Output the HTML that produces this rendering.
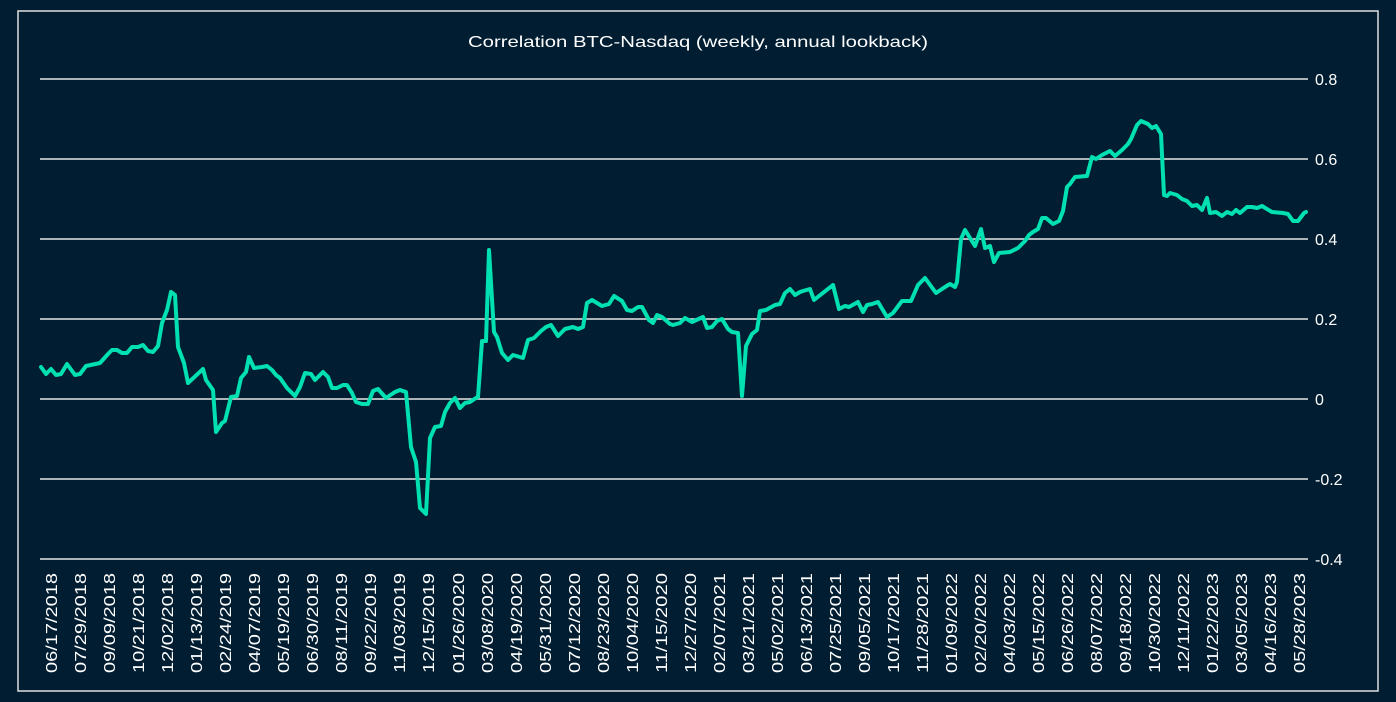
<!DOCTYPE html>
<html><head><meta charset="utf-8"><style>
html,body{margin:0;padding:0;background:#011d31;}
svg{display:block;font-family:"Liberation Sans",sans-serif;}
</style></head><body>
<svg width="1396" height="702" viewBox="0 0 1396 702" xmlns="http://www.w3.org/2000/svg">
<rect width="1396" height="702" fill="#011d31"/>
<rect x="18" y="11" width="1360" height="680" fill="none" stroke="#e0e0e0" stroke-width="1.5"/>
<text x="468" y="47" fill="#ffffff" font-size="16" textLength="460" lengthAdjust="spacingAndGlyphs">Correlation BTC-Nasdaq (weekly, annual lookback)</text>
<g stroke="#e6e6e6" stroke-width="1.5">
<line x1="40" y1="79" x2="1308" y2="79"/><line x1="40" y1="159" x2="1308" y2="159"/>
<line x1="40" y1="239" x2="1308" y2="239"/><line x1="40" y1="319" x2="1308" y2="319"/>
<line x1="40" y1="399" x2="1308" y2="399"/><line x1="40" y1="479" x2="1308" y2="479"/>
<line x1="40" y1="559" x2="1308" y2="559"/>
</g>
<g fill="#ffffff" font-size="16">
<text x="1315" y="85">0.8</text><text x="1315" y="165">0.6</text><text x="1315" y="245">0.4</text>
<text x="1315" y="325">0.2</text><text x="1315" y="405">0</text><text x="1315" y="485">-0.2</text>
<text x="1315" y="565">-0.4</text>
</g>
<polyline fill="none" stroke="#00e0b0" stroke-width="4" stroke-linejoin="round" stroke-linecap="round" points="41,367 46,374 51,369 56,375 61,374 67,364 75,375 80,374 86,366 100,363 108,354 112,350 117,350 122,353 127,353 132,347 138,347 143,345 148,351 153,352 158,346 162,323 167,310 171,292 175,295 178,347 184,363 188,383 203,369 206,380 213,390 216,432 222,423 225,421 231,397 237,396 241,378 246,372 249,357 254,368 262,367 267,366 272,370 276,375 280,378 287,388 295,396 300,387 305,373 311,374 315,380 323,372 328,377 332,388 337,388 343,385 347,385 352,393 356,402 362,404 368,404 373,391 378,389 386,398 395,392 400,390 406,392 407,403 411,447 416,462 420,508 426,514 430,438 435,427 441,426 445,412 450,403 455,398 460,408 465,403 470,402 476,398 478,397 482,341 486,341 489,250 494,332 497,337 502,353 508,360 513,355 523,358 528,340 534,338 541,331 546,327 551,325 558,336 565,329 573,327 578,329 583,327 587,303 592,300 602,306 609,304 614,296 622,301 627,310 632,311 638,307 642,307 649,320 653,323 657,315 662,317 670,324 673,325 680,323 685,318 692,322 703,317 707,328 712,327 717,321 722,319 728,329 732,332 738,333 742,396 746,346 752,334 757,330 760,311 766,310 775,305 780,304 785,293 790,289 795,295 800,292 803,291 810,289 814,300 819,296 833,285 839,309 845,306 849,307 858,302 863,312 867,305 872,304 878,302 887,317 893,313 902,301 911,301 918,285 925,278 936,293 945,287 950,284 955,287 957,282 961,239 965,230 975,246 981,229 985,248 990,246 994,262 999,253 1010,252 1018,248 1025,241 1029,235 1033,232 1038,229 1042,218 1046,218 1053,224 1059,221 1063,211 1067,187 1070,184 1075,177 1087,176 1092,157 1096,159 1102,155 1110,151 1115,156 1122,150 1128,144 1131,139 1137,125 1141,121 1148,124 1152,128 1156,126 1161,134 1164,195 1167,196 1170,193 1177,195 1182,199 1187,201 1192,206 1197,205 1202,210 1207,198 1210,213 1216,212 1222,216 1227,212 1232,214 1236,210 1240,213 1247,207 1252,207 1257,208 1262,206 1272,212 1283,213 1288,214 1293,221 1298,221 1304,213 1306,212"/>
<g fill="#ffffff" font-size="16" text-anchor="end">
<g transform="translate(57,573) rotate(-90)"><text textLength="100" lengthAdjust="spacingAndGlyphs">06/17/2018</text></g>
<g transform="translate(86,573) rotate(-90)"><text textLength="100" lengthAdjust="spacingAndGlyphs">07/29/2018</text></g>
<g transform="translate(115,573) rotate(-90)"><text textLength="100" lengthAdjust="spacingAndGlyphs">09/09/2018</text></g>
<g transform="translate(144,573) rotate(-90)"><text textLength="100" lengthAdjust="spacingAndGlyphs">10/21/2018</text></g>
<g transform="translate(173,573) rotate(-90)"><text textLength="100" lengthAdjust="spacingAndGlyphs">12/02/2018</text></g>
<g transform="translate(202,573) rotate(-90)"><text textLength="100" lengthAdjust="spacingAndGlyphs">01/13/2019</text></g>
<g transform="translate(231,573) rotate(-90)"><text textLength="100" lengthAdjust="spacingAndGlyphs">02/24/2019</text></g>
<g transform="translate(260,573) rotate(-90)"><text textLength="100" lengthAdjust="spacingAndGlyphs">04/07/2019</text></g>
<g transform="translate(289,573) rotate(-90)"><text textLength="100" lengthAdjust="spacingAndGlyphs">05/19/2019</text></g>
<g transform="translate(318,573) rotate(-90)"><text textLength="100" lengthAdjust="spacingAndGlyphs">06/30/2019</text></g>
<g transform="translate(347,573) rotate(-90)"><text textLength="100" lengthAdjust="spacingAndGlyphs">08/11/2019</text></g>
<g transform="translate(376,573) rotate(-90)"><text textLength="100" lengthAdjust="spacingAndGlyphs">09/22/2019</text></g>
<g transform="translate(405,573) rotate(-90)"><text textLength="100" lengthAdjust="spacingAndGlyphs">11/03/2019</text></g>
<g transform="translate(434,573) rotate(-90)"><text textLength="100" lengthAdjust="spacingAndGlyphs">12/15/2019</text></g>
<g transform="translate(464,573) rotate(-90)"><text textLength="100" lengthAdjust="spacingAndGlyphs">01/26/2020</text></g>
<g transform="translate(493,573) rotate(-90)"><text textLength="100" lengthAdjust="spacingAndGlyphs">03/08/2020</text></g>
<g transform="translate(522,573) rotate(-90)"><text textLength="100" lengthAdjust="spacingAndGlyphs">04/19/2020</text></g>
<g transform="translate(551,573) rotate(-90)"><text textLength="100" lengthAdjust="spacingAndGlyphs">05/31/2020</text></g>
<g transform="translate(580,573) rotate(-90)"><text textLength="100" lengthAdjust="spacingAndGlyphs">07/12/2020</text></g>
<g transform="translate(609,573) rotate(-90)"><text textLength="100" lengthAdjust="spacingAndGlyphs">08/23/2020</text></g>
<g transform="translate(638,573) rotate(-90)"><text textLength="100" lengthAdjust="spacingAndGlyphs">10/04/2020</text></g>
<g transform="translate(667,573) rotate(-90)"><text textLength="100" lengthAdjust="spacingAndGlyphs">11/15/2020</text></g>
<g transform="translate(696,573) rotate(-90)"><text textLength="100" lengthAdjust="spacingAndGlyphs">12/27/2020</text></g>
<g transform="translate(725,573) rotate(-90)"><text textLength="100" lengthAdjust="spacingAndGlyphs">02/07/2021</text></g>
<g transform="translate(754,573) rotate(-90)"><text textLength="100" lengthAdjust="spacingAndGlyphs">03/21/2021</text></g>
<g transform="translate(783,573) rotate(-90)"><text textLength="100" lengthAdjust="spacingAndGlyphs">05/02/2021</text></g>
<g transform="translate(812,573) rotate(-90)"><text textLength="100" lengthAdjust="spacingAndGlyphs">06/13/2021</text></g>
<g transform="translate(841,573) rotate(-90)"><text textLength="100" lengthAdjust="spacingAndGlyphs">07/25/2021</text></g>
<g transform="translate(870,573) rotate(-90)"><text textLength="100" lengthAdjust="spacingAndGlyphs">09/05/2021</text></g>
<g transform="translate(899,573) rotate(-90)"><text textLength="100" lengthAdjust="spacingAndGlyphs">10/17/2021</text></g>
<g transform="translate(928,573) rotate(-90)"><text textLength="100" lengthAdjust="spacingAndGlyphs">11/28/2021</text></g>
<g transform="translate(957,573) rotate(-90)"><text textLength="100" lengthAdjust="spacingAndGlyphs">01/09/2022</text></g>
<g transform="translate(986,573) rotate(-90)"><text textLength="100" lengthAdjust="spacingAndGlyphs">02/20/2022</text></g>
<g transform="translate(1015,573) rotate(-90)"><text textLength="100" lengthAdjust="spacingAndGlyphs">04/03/2022</text></g>
<g transform="translate(1044,573) rotate(-90)"><text textLength="100" lengthAdjust="spacingAndGlyphs">05/15/2022</text></g>
<g transform="translate(1073,573) rotate(-90)"><text textLength="100" lengthAdjust="spacingAndGlyphs">06/26/2022</text></g>
<g transform="translate(1102,573) rotate(-90)"><text textLength="100" lengthAdjust="spacingAndGlyphs">08/07/2022</text></g>
<g transform="translate(1131,573) rotate(-90)"><text textLength="100" lengthAdjust="spacingAndGlyphs">09/18/2022</text></g>
<g transform="translate(1160,573) rotate(-90)"><text textLength="100" lengthAdjust="spacingAndGlyphs">10/30/2022</text></g>
<g transform="translate(1189,573) rotate(-90)"><text textLength="100" lengthAdjust="spacingAndGlyphs">12/11/2022</text></g>
<g transform="translate(1218,573) rotate(-90)"><text textLength="100" lengthAdjust="spacingAndGlyphs">01/22/2023</text></g>
<g transform="translate(1247,573) rotate(-90)"><text textLength="100" lengthAdjust="spacingAndGlyphs">03/05/2023</text></g>
<g transform="translate(1276,573) rotate(-90)"><text textLength="100" lengthAdjust="spacingAndGlyphs">04/16/2023</text></g>
<g transform="translate(1305,573) rotate(-90)"><text textLength="100" lengthAdjust="spacingAndGlyphs">05/28/2023</text></g>
</g>
</svg>
</body></html>
